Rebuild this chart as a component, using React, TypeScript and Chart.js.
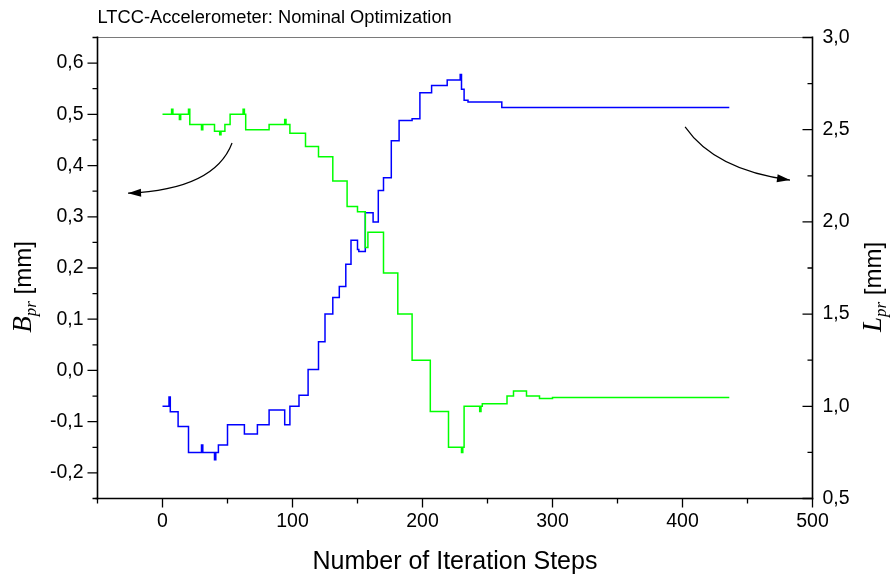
import React, { useEffect, useRef } from 'react';
import { Chart, registerables } from 'chart.js';
Chart.register(...registerables);

const TITLE = 'LTCC-Accelerometer: Nominal Optimization';
const X_TITLE = 'Number of Iteration Steps';
const X_MAJOR = [0, 100, 200, 300, 400, 500];
const X_MINOR = [-50, 50, 150, 250, 350, 450];
const LEFT_MAJOR = [-0.2, -0.1, 0.0, 0.1, 0.2, 0.3, 0.4, 0.5, 0.6];
const LEFT_MINOR = [-0.25, -0.15, -0.05, 0.05, 0.15, 0.25, 0.35, 0.45, 0.55, 0.65];
const RIGHT_MAJOR = [0.5, 1.0, 1.5, 2.0, 2.5, 3.0];
const RIGHT_MINOR = [0.75, 1.25, 1.75, 2.25, 2.75];

// B_pr (left axis, green) – step breakpoints
const bIter = [0, 7, 8, 12, 13, 14, 20, 21, 30, 31, 38, 40, 44, 45, 48, 52, 62, 63, 64, 75, 82, 94, 95, 98, 110, 120, 131, 142, 150, 153, 156, 158, 170, 181, 192, 206, 220, 230, 231, 232, 244, 245, 246, 265, 270, 280, 290, 300, 436];
const bVal = [0.50, 0.51, 0.50, 0.50, 0.49, 0.50, 0.51, 0.48, 0.47, 0.48, 0.48, 0.467, 0.46, 0.467, 0.48, 0.50, 0.51, 0.50, 0.47, 0.47, 0.48, 0.49, 0.48, 0.463, 0.437, 0.417, 0.37, 0.32, 0.31, 0.31, 0.24, 0.27, 0.19, 0.11, 0.02, -0.08, -0.15, -0.16, -0.15, -0.07, -0.08, -0.07, -0.065, -0.05, -0.04, -0.05, -0.055, -0.053, -0.053];

// L_pr (right axis, blue) – step breakpoints
const lIter = [0, 5, 6, 12, 20, 30, 31, 40, 41, 43, 50, 63, 73, 82, 94, 98, 105, 112, 120, 125, 131, 136, 141, 145, 150, 151, 156, 162, 166, 170, 176, 182, 192, 198, 207, 219, 229, 230, 232, 235, 261, 436];
const lVal = [1.0, 1.05, 0.97, 0.89, 0.75, 0.79, 0.75, 0.71, 0.75, 0.79, 0.90, 0.85, 0.90, 0.98, 0.90, 1.0, 1.06, 1.2, 1.35, 1.5, 1.59, 1.65, 1.77, 1.9, 1.85, 1.84, 2.05, 2.0, 2.17, 2.24, 2.44, 2.55, 2.56, 2.70, 2.74, 2.77, 2.80, 2.72, 2.66, 2.65, 2.62, 2.62];

const fmt = (v: number) => v.toFixed(1).replace('.', ',').replace('-0,0', '0,0');

const axesPlugin = {
  id: 'originAxes',
  afterDraw(chart: any) {
    const { ctx, chartArea } = chart;
    const { left, right, top, bottom } = chartArea;
    const x = chart.scales.x;
    const y = chart.scales.y;
    const y1 = chart.scales.y1;
    ctx.save();
    // frame
    ctx.strokeStyle = '#7a7a7a';
    ctx.lineWidth = 1;
    ctx.beginPath();
    ctx.moveTo(left, top);
    ctx.lineTo(right, top);
    ctx.stroke();
    ctx.strokeStyle = '#000';
    ctx.lineWidth = 1.6;
    ctx.beginPath();
    ctx.moveTo(left, top - 1);
    ctx.lineTo(left, bottom + 1);
    ctx.moveTo(left - 2, bottom);
    ctx.lineTo(right + 1, bottom);
    ctx.moveTo(right, top - 1);
    ctx.lineTo(right, bottom + 1);
    ctx.stroke();

    ctx.lineWidth = 1.3;
    ctx.beginPath();
    LEFT_MAJOR.forEach((v) => { const p = y.getPixelForValue(v); ctx.moveTo(left - 10, p); ctx.lineTo(left, p); });
    LEFT_MINOR.forEach((v) => { const p = y.getPixelForValue(v); ctx.moveTo(left - 5, p); ctx.lineTo(left, p); });
    RIGHT_MAJOR.forEach((v) => { const p = y1.getPixelForValue(v); ctx.moveTo(right - 10, p); ctx.lineTo(right, p); });
    RIGHT_MINOR.forEach((v) => { const p = y1.getPixelForValue(v); ctx.moveTo(right - 5, p); ctx.lineTo(right, p); });
    X_MAJOR.forEach((v) => { const p = x.getPixelForValue(v); ctx.moveTo(p, bottom); ctx.lineTo(p, bottom + 9); });
    X_MINOR.forEach((v) => { const p = x.getPixelForValue(v); ctx.moveTo(p, bottom); ctx.lineTo(p, bottom + 5); });
    ctx.stroke();

    ctx.fillStyle = '#000';
    ctx.font = '19.5px "Liberation Sans", Arial, sans-serif';
    ctx.textBaseline = 'middle';
    ctx.textAlign = 'right';
    LEFT_MAJOR.forEach((v) => ctx.fillText(fmt(v), left - 14, y.getPixelForValue(v)));
    ctx.textAlign = 'left';
    RIGHT_MAJOR.forEach((v) => ctx.fillText(fmt(v), right + 10, y1.getPixelForValue(v)));
    ctx.textAlign = 'center';
    X_MAJOR.forEach((v) => ctx.fillText(String(v), x.getPixelForValue(v), bottom + 23));

    // titles
    ctx.textAlign = 'left';
    ctx.font = '18.3px "Liberation Sans", Arial, sans-serif';
    ctx.fillText(TITLE, left, 18);
    ctx.textAlign = 'center';
    ctx.font = '25px "Liberation Sans", Arial, sans-serif';
    ctx.fillText(X_TITLE, (left + right) / 2, 562);

    const drawYTitle = (cx: number, cy: number, letter: string) => {
      ctx.save();
      ctx.translate(cx, cy);
      ctx.rotate(-Math.PI / 2);
      ctx.textAlign = 'left';
      ctx.textBaseline = 'alphabetic';
      const f1 = 'italic 27px "Liberation Serif", "Times New Roman", serif';
      const f2 = 'italic 17px "Liberation Serif", "Times New Roman", serif';
      const f3 = '24px "Liberation Sans", Arial, sans-serif';
      ctx.font = f1; const w1 = ctx.measureText(letter).width;
      ctx.font = f2; const w2 = ctx.measureText('pr').width;
      ctx.font = f3; const w3 = ctx.measureText(' [mm]').width;
      let px = -(w1 + w2 + w3) / 2;
      ctx.font = f1; ctx.fillText(letter, px, 9); px += w1;
      ctx.font = f2; ctx.fillText('pr', px, 14); px += w2;
      ctx.font = f3; ctx.fillText(' [mm]', px, 9);
      ctx.restore();
    };
    drawYTitle(22, 287, 'B');
    drawYTitle(872, 287, 'L');

    // arrows
    const arrow = (sx: number, sy: number, cx: number, cy: number, ex: number, ey: number) => {
      ctx.lineWidth = 1.2;
      ctx.beginPath();
      ctx.moveTo(sx, sy);
      ctx.quadraticCurveTo(cx, cy, ex, ey);
      ctx.stroke();
      const ang = Math.atan2(ey - cy, ex - cx);
      const L = 13, W = 4;
      ctx.beginPath();
      ctx.moveTo(ex, ey);
      ctx.lineTo(ex - L * Math.cos(ang) + W * Math.sin(ang), ey - L * Math.sin(ang) - W * Math.cos(ang));
      ctx.lineTo(ex - L * Math.cos(ang) - W * Math.sin(ang), ey - L * Math.sin(ang) + W * Math.cos(ang));
      ctx.closePath();
      ctx.fill();
    };
    arrow(x.getPixelForValue(53.5), y.getPixelForValue(0.444), x.getPixelForValue(40), y.getPixelForValue(0.353), x.getPixelForValue(-26.5), y.getPixelForValue(0.346));
    arrow(x.getPixelForValue(402), y1.getPixelForValue(2.515), x.getPixelForValue(425), y1.getPixelForValue(2.281), x.getPixelForValue(482.7), y1.getPixelForValue(2.227));
    ctx.restore();
  },
};

export default function App() {
  const ref = useRef<HTMLCanvasElement>(null);
  useEffect(() => {
    if (!ref.current) return;
    const chart = new Chart(ref.current, {
      type: 'line',
      data: {
        datasets: [
          {
            label: 'B_pr',
            data: bIter.map((it, i) => ({ x: it, y: bVal[i] })),
            borderColor: '#00ff00',
            borderWidth: 1.5,
            pointRadius: 0,
            stepped: 'before',
            yAxisID: 'y',
            fill: false,
          },
          {
            label: 'L_pr',
            data: lIter.map((it, i) => ({ x: it, y: lVal[i] })),
            borderColor: '#0000ff',
            borderWidth: 1.5,
            pointRadius: 0,
            stepped: 'before',
            yAxisID: 'y1',
            fill: false,
          },
        ],
      },
      options: {
        animation: false,
        responsive: false,
        layout: { padding: { left: 97.5, top: 37.5, right: 78.5, bottom: 77.5 } },
        plugins: { legend: { display: false }, tooltip: { enabled: false }, title: { display: false } },
        scales: {
          x: { type: 'linear', min: -50, max: 500, display: false },
          y: { type: 'linear', min: -0.25, max: 0.65, display: false },
          y1: { type: 'linear', min: 0.5, max: 3.0, display: false, position: 'right' },
        },
      },
      plugins: [axesPlugin],
    });
    return () => chart.destroy();
  }, []);
  return (
    <div style={{ position: 'fixed', left: 0, top: 0, width: 891, height: 576, background: '#fff' }}>
      <canvas ref={ref} width={891} height={576} style={{ width: 891, height: 576 }} />
    </div>
  );
}
